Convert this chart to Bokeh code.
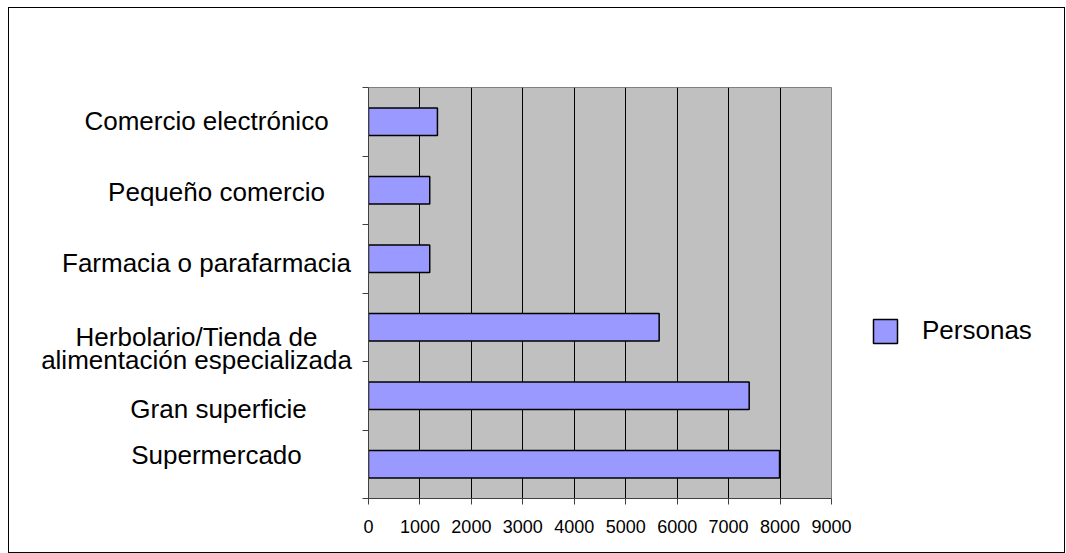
from bokeh.plotting import figure
from bokeh.layouts import row
from bokeh.models import (FactorRange, Range1d, LinearAxis, FixedTicker, Legend,
                          LegendItem, ColumnDataSource)
from bokeh.core.properties import value
from bokeh.embed import file_html
from bokeh.resources import INLINE

# ---- data ----
categories = ["Supermercado", "Gran superficie",
              "Herbolario/Tienda de alimentación especializada",
              "Farmacia o parafarmacia", "Pequeño comercio", "Comercio electrónico"]
category_labels = ["Supermercado", "Gran superficie",
                   "Herbolario/Tienda de\nalimentación especializada",
                   "Farmacia o parafarmacia", "Pequeño comercio", "Comercio electrónico"]
personas = [7990, 7400, 5650, 1190, 1190, 1340]
x_ticks = [0, 1000, 2000, 3000, 4000, 5000, 6000, 7000, 8000, 9000]
series_name = "Personas"

# ---- styles / layout ----
FONT = "Liberation Sans"
BAR_FILL = "#9999FF"
label_dy = [-9, 13, 21, 4, 2, -1]     # vertical nudges of the category labels (px)
label_dx = [6, 8, -14, -4, 6, -4]     # horizontal nudges of the category labels (px)
LEFT_W, MAIN_W, RIGHT_W, H = 352, 495, 208, 544
LABEL_CX = 201                          # centre of the label column (px)
TOP, BOTTOM = 79, 54

y_range = FactorRange(factors=categories, range_padding=0)

# ---------- left: category labels ----------
L = figure(width=LEFT_W, height=H, y_range=y_range, x_range=Range1d(0, LEFT_W),
           output_backend="svg", toolbar_location=None,
           x_axis_location=None, y_axis_location=None,
           min_border_left=0, min_border_right=0,
           min_border_top=TOP, min_border_bottom=BOTTOM)
L.outline_line_color = None
L.grid.visible = False
L.background_fill_color = "white"
L.border_fill_color = "white"
lab_src = ColumnDataSource(dict(cat=categories, lab=category_labels,
                                lx=[LABEL_CX] * len(categories),
                                dx=label_dx, dy=label_dy))
L.text(x="lx", y="cat", text="lab", source=lab_src, x_offset="dx", y_offset="dy",
       text_align="center", text_baseline="middle",
       text_font=value(FONT), text_font_size="26px", text_color="black",
       text_line_height=0.75)

# ---------- main plot ----------
M = figure(width=MAIN_W, height=H, y_range=y_range,
           x_range=Range1d(x_ticks[0], x_ticks[-1]),
           output_backend="svg", toolbar_location=None, y_axis_location=None,
           min_border_left=7, min_border_right=25,
           min_border_top=TOP, min_border_bottom=BOTTOM)
M.background_fill_color = "#C0C0C0"
M.border_fill_color = "white"
M.outline_line_color = "#808080"
M.outline_line_width = 1

M.ygrid.visible = False
M.xgrid.ticker = FixedTicker(ticks=x_ticks[1:-1])
M.xgrid.grid_line_color = "#000000"
M.xgrid.grid_line_width = 1

xa = M.xaxis[0]
xa.ticker = FixedTicker(ticks=x_ticks)
xa.major_label_text_font_size = "18px"
xa.major_label_text_font = FONT
xa.major_label_text_color = "black"
xa.major_tick_out = 6
xa.major_tick_in = 0
xa.minor_tick_out = 0
xa.minor_tick_in = 0
xa.axis_line_color = "#404040"
xa.major_tick_line_color = "#404040"
xa.major_label_standoff = 15

# tick marks at the category boundaries (synthetic coordinates 0..N), no labels
ya = LinearAxis(ticker=FixedTicker(ticks=[], minor_ticks=list(range(len(categories) + 1))),
                major_tick_out=0, major_tick_in=0,
                minor_tick_out=6, minor_tick_in=0,
                axis_line_color="#404040", minor_tick_line_color="#404040")
M.add_layout(ya, "left")

src = ColumnDataSource(dict(cat=categories, val=personas))
bars = M.hbar(y="cat", right="val", left=0, height=0.4, source=src,
              fill_color=BAR_FILL, line_color="black", line_width=1.5)

# ---------- right: legend ----------
# The series is bound to this panel's own ranges, where its factors do not exist,
# so only its legend swatch shows here.
R = figure(width=RIGHT_W, height=H, x_range=Range1d(x_ticks[0], x_ticks[-1]),
           y_range=FactorRange(factors=[series_name]),
           output_backend="svg", toolbar_location=None,
           x_axis_location=None, y_axis_location=None,
           min_border_left=0, min_border_right=0, min_border_top=0, min_border_bottom=0)
R.outline_line_color = None
R.grid.visible = False
R.background_fill_color = "white"
R.border_fill_color = "white"
swatch = R.hbar(y="cat", right="val", left=0, height=0.4, source=src,
                fill_color=BAR_FILL, line_color="black", line_width=1.5)
legend = Legend(items=[LegendItem(label=series_name, renderers=[swatch])],
                location=(14, 152), padding=0, margin=0,
                border_line_color=None, background_fill_alpha=0,
                glyph_width=30, glyph_height=30, label_standoff=22,
                label_text_font_size="26px", label_text_font=FONT,
                label_text_color="black", label_height=30)
R.add_layout(legend)

layout = row(L, M, R, spacing=0, margin=(8, 0, 0, 9),
             styles={"outline": "1px solid black"})

open("out.html", "w").write(file_html(layout, INLINE))
